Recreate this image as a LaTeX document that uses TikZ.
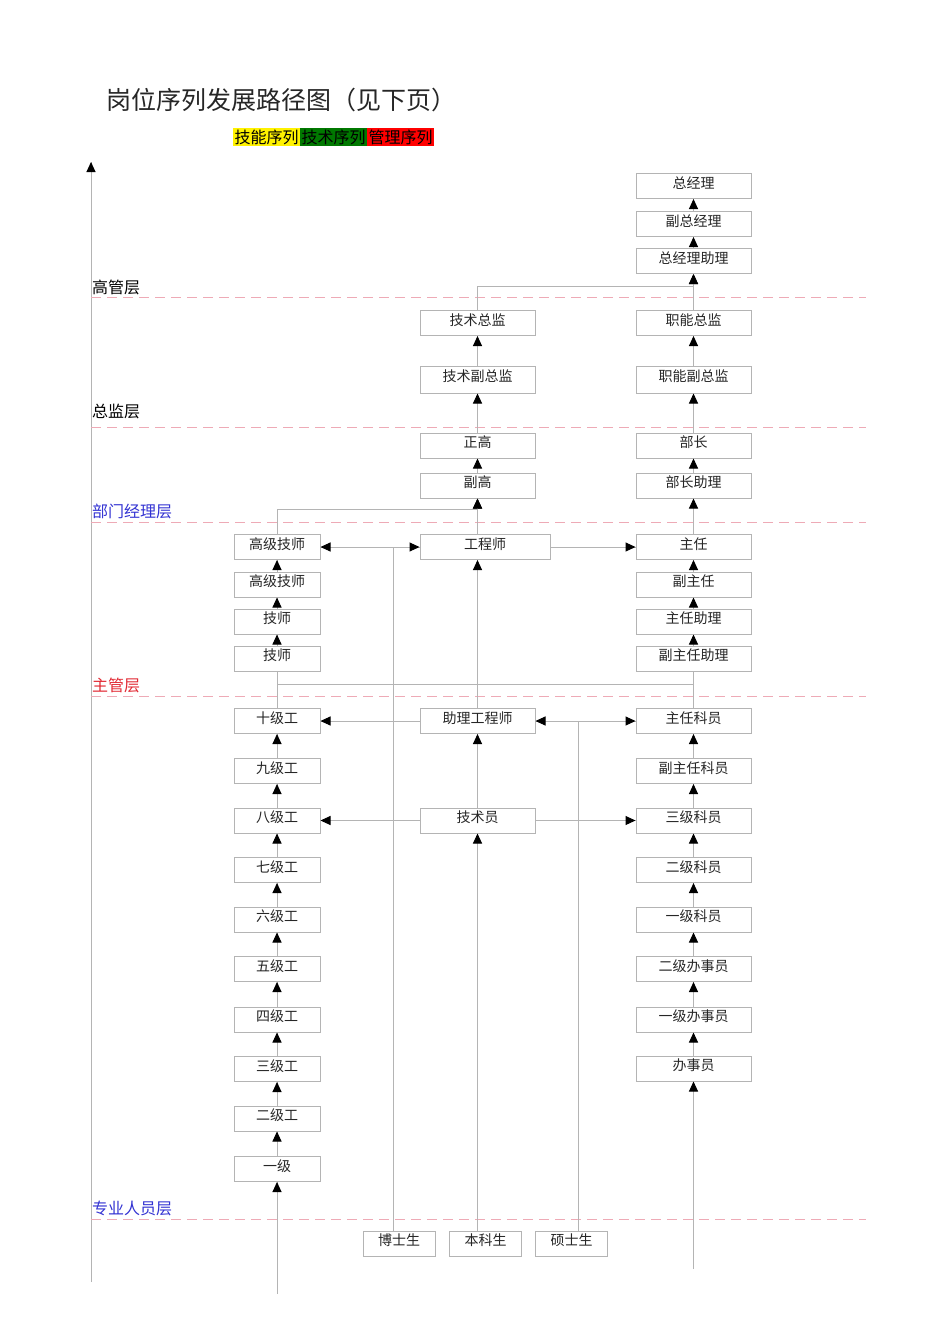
\documentclass[tikz,border=0pt]{standalone}
\usepackage{fontspec}
\setmainfont{Noto Sans CJK SC}
\usepackage{tikz}
\usetikzlibrary{arrows.meta}
\usetikzlibrary{decorations.markings}
\definecolor{lgray}{RGB}{180,180,180}
\definecolor{dpink}{RGB}{238,170,182}
\definecolor{lblue}{RGB}{50,50,210}
\definecolor{lred}{RGB}{225,40,50}
\definecolor{dgreen}{RGB}{0,120,0}
\tikzset{fwd/.style = {decoration={markings,
                                  mark=at position 1 with {\arrow{Triangle[length=10pt,width=9pt,color=black]}}},
                      postaction={decorate}}}
\tikzset{bidir/.style = {decoration={markings,
                                  mark=at position 0 with {\arrowreversed{Triangle[length=10pt,width=9pt,color=black]}},
                                  mark=at position 1 with {\arrow{Triangle[length=10pt,width=9pt,color=black]}}},
                      postaction={decorate}}}
\tikzset{box/.style = {draw=lgray, fill=white, line width=1pt, minimum width=115, minimum height=25,
                       inner sep=0, text height=9pt, text depth=5pt,
                       font=\fontsize{14pt}{14pt}\selectfont, text=black!85}}
\tikzset{sbox/.style = {box, minimum width=86}}
\tikzset{ebox/.style = {box, minimum width=72}}
\tikzset{con/.style = {draw=lgray, line width=1pt}}
\tikzset{layer/.style = {dpink, line width=1pt, dash pattern=on 10pt off 6pt}}
\tikzset{lname/.style = {anchor=south west, inner sep=0, font=\fontsize{16pt}{16pt}\selectfont}}
\tikzset{tag/.style = {inner sep=0, minimum width=67, minimum height=18, font=\fontsize{16pt}{16pt}\selectfont}}

\begin{document}
\begin{tikzpicture}[x=1pt, y=-1pt]
      \useasboundingbox (0, 0) rectangle (950, 1344);
      % title and legend
      \node [anchor=west, inner sep=0, font=\fontsize{25pt}{25pt}\selectfont, text=black!85] (title) at (106, 100) {岗位序列发展路径图（见下页）};
      \node [tag, fill=yellow] (tagskill) at (266.5, 137) {技能序列};
      \node [tag, fill=dgreen] (tagtech) at (333.5, 137) {技术序列};
      \node [tag, fill=red] (tagmgmt) at (400.5, 137) {管理序列};
      % axis and layers
      \coordinate (ybot) at (91, 1282);
      \coordinate (ytop) at (91, 162);
      \draw [con, fwd] (ybot) -- (ytop);
      \draw [layer] (91, 297) -- (866, 297);
      \draw [layer] (91, 427) -- (866, 427);
      \draw [layer] (91, 522) -- (866, 522);
      \draw [layer] (91, 696) -- (866, 696);
      \draw [layer] (91, 1219) -- (866, 1219);
      \node [lname] (lgg) at (92, 295) {高管层};
      \node [lname] (lzj) at (92, 419) {总监层};
      \node [lname, text=lblue] (lbm) at (92, 519) {部门经理层};
      \node [lname, text=lred] (lzg) at (92, 693) {主管层};
      \node [lname, text=lblue] (lzy) at (92, 1216) {专业人员层};
      % management column
      \node [box] (gm) at (693.5, 186) {总经理};
      \node [box] (vgm) at (693.5, 224) {副总经理};
      \node [box] (agm) at (693.5, 261) {总经理助理};
      \node [box] (fd) at (693.5, 323) {职能总监};
      \node [box, minimum height=27] (vfd) at (693.5, 379.5) {职能副总监};
      \node [box] (bz) at (693.5, 445.5) {部长};
      \node [box] (abz) at (693.5, 485.5) {部长助理};
      \node [box] (zr) at (693.5, 547) {主任};
      \node [box] (fzr) at (693.5, 584.5) {副主任};
      \node [box] (zrzl) at (693.5, 621.5) {主任助理};
      \node [box] (fzrzl) at (693.5, 658.5) {副主任助理};
      \node [box] (zrky) at (693.5, 721) {主任科员};
      \node [box] (fzrky) at (693.5, 771) {副主任科员};
      \node [box] (ky3) at (693.5, 820.5) {三级科员};
      \node [box] (ky2) at (693.5, 870) {二级科员};
      \node [box] (ky1) at (693.5, 919.5) {一级科员};
      \node [box] (bsy2) at (693.5, 969) {二级办事员};
      \node [box] (bsy1) at (693.5, 1019.5) {一级办事员};
      \node [box] (bsy) at (693.5, 1068.5) {办事员};
      % technical column
      \node [box] (td) at (477.5, 323) {技术总监};
      \node [box, minimum height=27] (vtd) at (477.5, 379.5) {技术副总监};
      \node [box] (zg) at (477.5, 445.5) {正高};
      \node [box] (fg) at (477.5, 485.5) {副高};
      \node [box, minimum width=130] (gcs) at (485, 547) {工程师};
      \node [box] (zlgcs) at (477.5, 721) {助理工程师};
      \node [box] (jsy) at (477.5, 820.5) {技术员};
      % skill column
      \node [sbox] (gjjs1) at (277, 547) {高级技师};
      \node [sbox] (gjjs2) at (277, 584.5) {高级技师};
      \node [sbox] (js1) at (277, 621.5) {技师};
      \node [sbox] (js2) at (277, 658.5) {技师};
      \node [sbox] (g10) at (277, 721) {十级工};
      \node [sbox] (g9) at (277, 771) {九级工};
      \node [sbox] (g8) at (277, 820.5) {八级工};
      \node [sbox] (g7) at (277, 870) {七级工};
      \node [sbox] (g6) at (277, 919.5) {六级工};
      \node [sbox] (g5) at (277, 969) {五级工};
      \node [sbox] (g4) at (277, 1019.5) {四级工};
      \node [sbox] (g3) at (277, 1069) {三级工};
      \node [sbox] (g2) at (277, 1118.5) {二级工};
      \node [sbox] (g1) at (277, 1169) {一级};
      % entry
      \node [ebox] (bss) at (399, 1243.5) {博士生};
      \node [ebox] (bks) at (485.5, 1243.5) {本科生};
      \node [ebox] (sss) at (571.5, 1243.5) {硕士生};
      \coordinate (j1) at (393, 547);
      \coordinate (j2) at (578, 721);
      \coordinate (mbot) at (693.5, 1269);
      \coordinate (sbot) at (277, 1294);
      % management connectors
      \draw [con, fwd] (vgm) -- (gm);
      \draw [con, fwd] (agm) -- (vgm);
      \draw [con, fwd] (fd) -- (agm);
      \draw [con, fwd] (vfd) -- (fd);
      \draw [con, fwd] (bz) -- (vfd);
      \draw [con, fwd] (abz) -- (bz);
      \draw [con, fwd] (zr) -- (abz);
      \draw [con, fwd] (fzr) -- (zr);
      \draw [con, fwd] (zrzl) -- (fzr);
      \draw [con, fwd] (fzrzl) -- (zrzl);
      \draw [con, fwd] (fzrky) -- (zrky);
      \draw [con, fwd] (ky3) -- (fzrky);
      \draw [con, fwd] (ky2) -- (ky3);
      \draw [con, fwd] (ky1) -- (ky2);
      \draw [con, fwd] (bsy2) -- (ky1);
      \draw [con, fwd] (bsy1) -- (bsy2);
      \draw [con, fwd] (bsy) -- (bsy1);
      \draw [con, fwd] (mbot) -- (bsy);
      % technical connectors
      \draw [con, fwd] (td.north) -- ++(0, -24) -| (agm.south);
      \draw [con, fwd] (vtd) -- (td);
      \draw [con, fwd] (zg) -- (vtd);
      \draw [con, fwd] (fg) -- (zg);
      \draw [con, fwd] (gcs.north -| fg) -- (fg.south);
      \draw [con, fwd] (gjjs1.north) -- ++(0, -25) -| (fg.south);
      \draw [con, fwd] (zlgcs.north) -- (gcs.south -| zlgcs);
      \draw [con, fwd] (jsy) -- (zlgcs);
      \draw [con, fwd] (bks.north -| jsy) -- (jsy.south);
      \draw [con, bidir] (gjjs1.east) -- (gcs.west);
      \draw [con, fwd] (gcs.east) -- (zr.west);
      \draw [con, fwd] (zlgcs.west) -- (g10.east);
      \draw [con, bidir] (zlgcs.east) -- (zrky.west);
      \draw [con, fwd] (jsy.west) -- (g8.east);
      \draw [con, fwd] (jsy.east) -- (ky3.west);
      \draw [con] (bss.north -| j1) -- (j1);
      \draw [con] (sss.north -| j2) -- (j2);
      % skill connectors
      \draw [con, fwd] (gjjs2) -- (gjjs1);
      \draw [con, fwd] (js1) -- (gjjs2);
      \draw [con, fwd] (js2) -- (js1);
      \draw [con] (js2.south) -- (g10.north);
      \draw [con] (fzrzl.south) -- (zrky.north);
      \draw [con] (js2 |- 0, 684) -- (fzrzl |- 0, 684);
      \draw [con, fwd] (g9) -- (g10);
      \draw [con, fwd] (g8) -- (g9);
      \draw [con, fwd] (g7) -- (g8);
      \draw [con, fwd] (g6) -- (g7);
      \draw [con, fwd] (g5) -- (g6);
      \draw [con, fwd] (g4) -- (g5);
      \draw [con, fwd] (g3) -- (g4);
      \draw [con, fwd] (g2) -- (g3);
      \draw [con, fwd] (g1) -- (g2);
      \draw [con, fwd] (sbot) -- (g1);
    \end{tikzpicture}
\end{document}
